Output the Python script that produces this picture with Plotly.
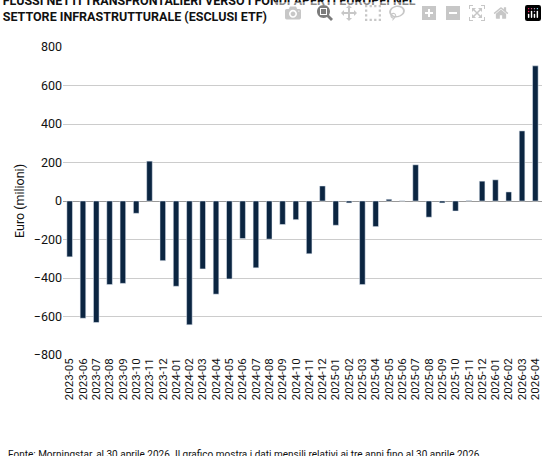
import plotly.graph_objects as go

months = ["2023-05","2023-06","2023-07","2023-08","2023-09","2023-10","2023-11","2023-12",
          "2024-01","2024-02","2024-03","2024-04","2024-05","2024-06","2024-07","2024-08","2024-09","2024-10","2024-11","2024-12",
          "2025-01","2025-02","2025-03","2025-04","2025-05","2025-06","2025-07","2025-08","2025-09","2025-10","2025-11","2025-12",
          "2026-01","2026-02","2026-03","2026-04"]
flows = [-290,-609,-631,-434,-428,-64,207,-310,
         -443,-643,-353,-484,-405,-195,-347,-198,-122,-97,-274,78,
         -126,-10,-434,-133,9,1,188,-84,-10,-52,2,103,
         110,47,364,702]

fig = go.Figure(go.Bar(x=months, y=flows, marker_color="#0b2541", width=0.42))
fig.update_layout(
    width=547, height=456, margin=dict(l=63, r=5, t=47, b=101),
    plot_bgcolor="white", paper_bgcolor="white",
    font=dict(family="Roboto, Liberation Sans, sans-serif", size=12, color="#111"),
    showlegend=False, bargap=0.5,
    title=dict(text="<b>FLUSSI NETTI TRANSFRONTALIERI VERSO I FONDI APERTI EUROPEI NEL<br>SETTORE INFRASTRUTTURALE (ESCLUSI ETF)</b>",
               x=0.005, xanchor="left", y=0.99, yanchor="top", font=dict(size=12.5)),
)
fig.update_xaxes(tickangle=-90, tickfont=dict(size=11.5), showgrid=False, type="category", ticks="",
                 tickmode="array", tickvals=months, ticktext=months)
fig.update_yaxes(range=[-800, 800], dtick=200, gridcolor="#cccccc", gridwidth=1, zeroline=True,
                 zerolinecolor="#999999", zerolinewidth=1,
                 title=dict(text="Euro (milioni)", standoff=6, font=dict(size=12.5)), tickfont=dict(size=12.5))
fig.add_annotation(xref="paper", yref="paper", x=-0.118, y=-0.3, xanchor="left", yanchor="top", align="left", showarrow=False,
                   text="Fonte: Morningstar, al 30 aprile 2026. Il grafico mostra i dati mensili relativi ai tre anni fino al 30 aprile 2026,<br>in euro, per i flussi netti transfrontalieri verso i fondi aperti (esclusi ETF) di equity infrastrutturale europei.",
                   font=dict(size=10))
fig.write_html("out.html", post_script="document.body.style.margin='0';document.body.style.overflow='hidden';document.documentElement.style.overflow='hidden';")
